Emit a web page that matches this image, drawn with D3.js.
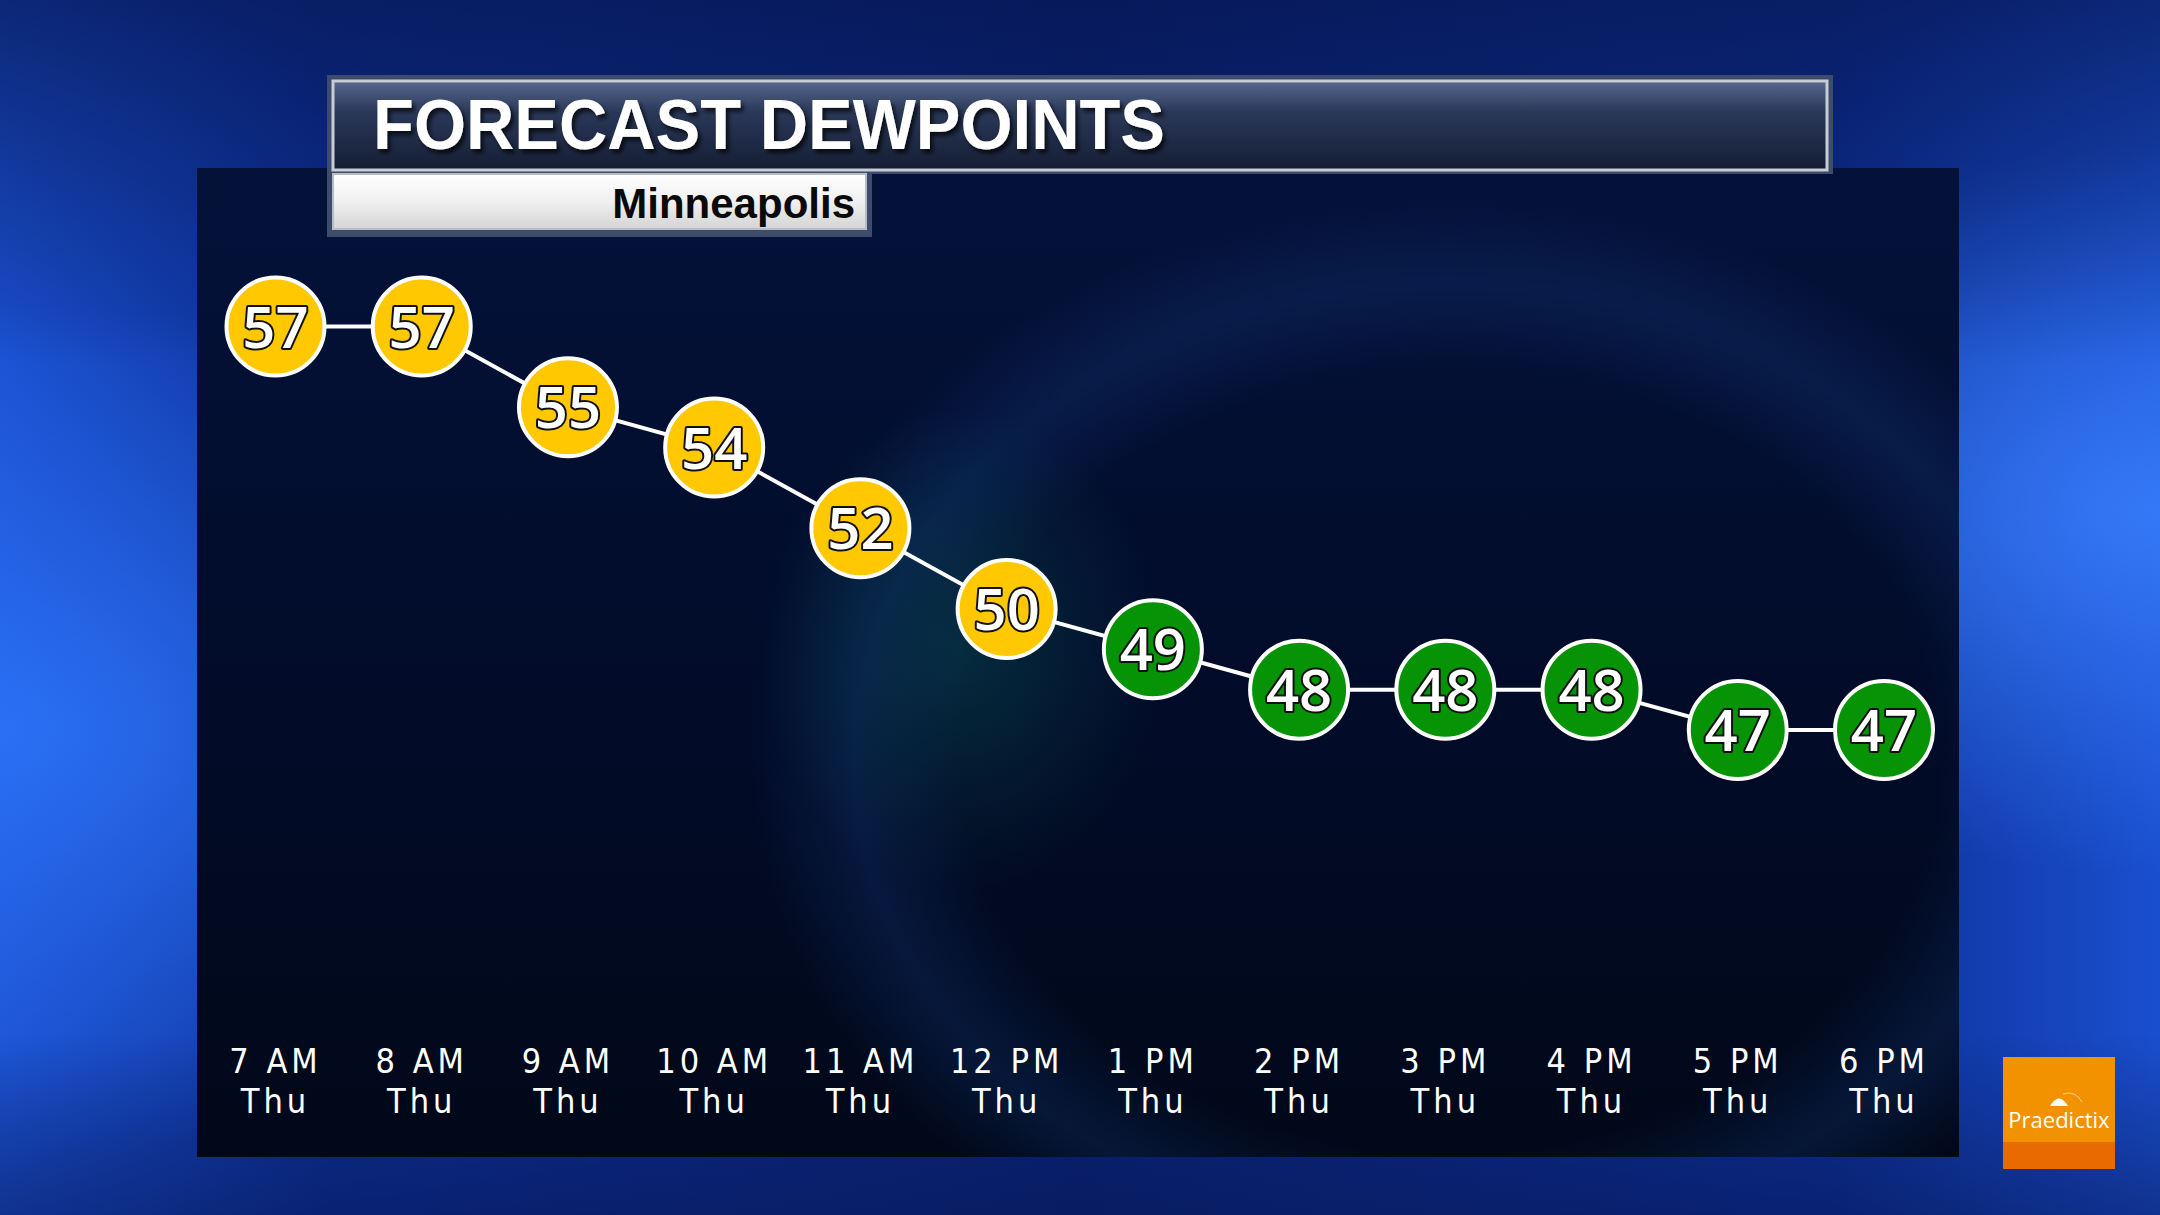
<!DOCTYPE html>
<html>
<head>
<meta charset="utf-8">
<script src="https://cdn.jsdelivr.net/npm/d3@7"></script>
<style>
  html, body { margin: 0; padding: 0; background: #0a2470; }
  svg { display: block; }
</style>
</head>
<body>
<script>
// Chart data
var hours = ["7 AM", "8 AM", "9 AM", "10 AM", "11 AM", "12 PM", "1 PM", "2 PM", "3 PM", "4 PM", "5 PM", "6 PM"];
var days = ["Thu", "Thu", "Thu", "Thu", "Thu", "Thu", "Thu", "Thu", "Thu", "Thu", "Thu", "Thu"];
var dewpoints = [57, 57, 55, 54, 52, 50, 49, 48, 48, 48, 47, 47];
var title = "FORECAST DEWPOINTS";
var city = "Minneapolis";

var W = 2160, H = 1215;

var svg = d3.select("body").append("svg")
    .attr("width", W)
    .attr("height", H);

var defs = svg.append("defs");

// background gradients
var bg = defs.append("linearGradient").attr("id", "bg")
    .attr("x1", "0").attr("y1", "0").attr("x2", "1").attr("y2", "0");
bg.append("stop").attr("offset", "0").attr("stop-color", "#1a4fcf");
bg.append("stop").attr("offset", "0.15").attr("stop-color", "#0c2f95");
bg.append("stop").attr("offset", "0.5").attr("stop-color", "#0a2274");
bg.append("stop").attr("offset", "0.85").attr("stop-color", "#0c2f95");
bg.append("stop").attr("offset", "1").attr("stop-color", "#1a4fcf");

var glowL = defs.append("radialGradient").attr("id", "glowL")
    .attr("cx", "0").attr("cy", "0.6").attr("r", "0.35");
glowL.append("stop").attr("offset", "0").attr("stop-color", "#2f78ff").attr("stop-opacity", 0.8);
glowL.append("stop").attr("offset", "1").attr("stop-color", "#2f78ff").attr("stop-opacity", 0);

var glowR = defs.append("radialGradient").attr("id", "glowR")
    .attr("cx", "1").attr("cy", "0.42").attr("r", "0.3");
glowR.append("stop").attr("offset", "0").attr("stop-color", "#3a80ff").attr("stop-opacity", 0.85);
glowR.append("stop").attr("offset", "1").attr("stop-color", "#3a80ff").attr("stop-opacity", 0);

var topDark = defs.append("linearGradient").attr("id", "topDark")
    .attr("x1", "0").attr("y1", "0").attr("x2", "0").attr("y2", "1");
topDark.append("stop").attr("offset", "0").attr("stop-color", "#061650").attr("stop-opacity", 0.7);
topDark.append("stop").attr("offset", "0.3").attr("stop-color", "#061650").attr("stop-opacity", 0);
topDark.append("stop").attr("offset", "0.85").attr("stop-color", "#061650").attr("stop-opacity", 0);
topDark.append("stop").attr("offset", "1").attr("stop-color", "#061650").attr("stop-opacity", 0.5);

// dark plot panel
var panel = defs.append("linearGradient").attr("id", "panel")
    .attr("x1", "0").attr("y1", "0").attr("x2", "0").attr("y2", "1");
panel.append("stop").attr("offset", "0").attr("stop-color", "#04123a");
panel.append("stop").attr("offset", "0.5").attr("stop-color", "#020c2a");
panel.append("stop").attr("offset", "1").attr("stop-color", "#010818");

var teal = defs.append("radialGradient").attr("id", "teal")
    .attr("cx", "0.5").attr("cy", "0.5").attr("r", "0.5");
teal.append("stop").attr("offset", "0").attr("stop-color", "#0a5a5a").attr("stop-opacity", 0.4);
teal.append("stop").attr("offset", "1").attr("stop-color", "#0a5a5a").attr("stop-opacity", 0);

var swirl = defs.append("radialGradient").attr("id", "swirl")
    .attr("cx", "0.5").attr("cy", "0.5").attr("r", "0.5");
swirl.append("stop").attr("offset", "0.7").attr("stop-color", "#123a80").attr("stop-opacity", 0);
swirl.append("stop").attr("offset", "0.85").attr("stop-color", "#123a80").attr("stop-opacity", 0.3);
swirl.append("stop").attr("offset", "1").attr("stop-color", "#123a80").attr("stop-opacity", 0);

// title bar
var titleG = defs.append("linearGradient").attr("id", "titleG")
    .attr("x1", "0").attr("y1", "0").attr("x2", "0").attr("y2", "1");
titleG.append("stop").attr("offset", "0").attr("stop-color", "#56688f");
titleG.append("stop").attr("offset", "0.35").attr("stop-color", "#2a3858");
titleG.append("stop").attr("offset", "1").attr("stop-color", "#141d33");

var subG = defs.append("linearGradient").attr("id", "subG")
    .attr("x1", "0").attr("y1", "0").attr("x2", "0").attr("y2", "1");
subG.append("stop").attr("offset", "0").attr("stop-color", "#ffffff");
subG.append("stop").attr("offset", "0.5").attr("stop-color", "#f0f0f0");
subG.append("stop").attr("offset", "1").attr("stop-color", "#d4d4d4");

var shadow = defs.append("filter").attr("id", "shadow")
    .attr("x", "-5%").attr("y", "-20%").attr("width", "110%").attr("height", "150%");
shadow.append("feDropShadow").attr("dx", 3).attr("dy", 4).attr("stdDeviation", 2)
    .attr("flood-color", "#000").attr("flood-opacity", 0.7);

// ---- background ----
svg.append("rect").attr("width", W).attr("height", H).attr("fill", "url(#bg)");
svg.append("rect").attr("width", W).attr("height", H).attr("fill", "url(#glowL)");
svg.append("rect").attr("width", W).attr("height", H).attr("fill", "url(#glowR)");
svg.append("rect").attr("width", W).attr("height", H).attr("fill", "url(#topDark)");

// ---- panel ----
var px0 = 197, py0 = 168, px1 = 1959, py1 = 1157;
svg.append("rect")
    .attr("x", px0).attr("y", py0)
    .attr("width", px1 - px0).attr("height", py1 - py0)
    .attr("fill", "url(#panel)");

var clip = defs.append("clipPath").attr("id", "panelClip");
clip.append("rect").attr("x", px0).attr("y", py0).attr("width", px1 - px0).attr("height", py1 - py0);

var deco = svg.append("g").attr("clip-path", "url(#panelClip)");
deco.append("ellipse").attr("cx", 1450).attr("cy", 760).attr("rx", 700).attr("ry", 560)
    .attr("fill", "url(#swirl)");
deco.append("ellipse").attr("cx", 960).attr("cy", 650).attr("rx", 200).attr("ry", 240)
    .attr("fill", "url(#teal)");

// ---- scales ----
var x = d3.scalePoint()
    .domain(d3.range(hours.length))
    .range([275.5, 1884]);

var y = d3.scaleLinear()
    .domain([47, 57])
    .range([730, 326.5]);

var color = function(v) { return v >= 50 ? "#ffc800" : "#069406"; };

// ---- line ----
var line = d3.line()
    .x(function(d, i) { return x(i); })
    .y(function(d) { return y(d); });

svg.append("path")
    .datum(dewpoints)
    .attr("d", line)
    .attr("fill", "none")
    .attr("stroke", "#ffffff")
    .attr("stroke-width", 4);

// ---- points ----
var pts = svg.selectAll("g.pt")
    .data(dewpoints)
    .enter().append("g")
    .attr("class", "pt")
    .attr("transform", function(d, i) { return "translate(" + x(i) + "," + y(d) + ")"; });

pts.append("circle")
    .attr("r", 49)
    .attr("fill", function(d) { return color(d); })
    .attr("stroke", "#ffffff")
    .attr("stroke-width", 4);

pts.append("text")
    .attr("text-anchor", "middle")
    .attr("y", 21)
    .attr("font-family", "'Open Sans', sans-serif")
    .attr("font-weight", 600)
    .attr("font-size", 58)
    .attr("fill", "#ffffff")
    .attr("stroke", "#111111")
    .attr("stroke-width", 4)
    .attr("stroke-linejoin", "round")
    .attr("paint-order", "stroke")
    .text(function(d) { return d; });

// ---- x labels (time over day) ----
var labels = svg.selectAll("g.lbl")
    .data(hours)
    .enter().append("g")
    .attr("class", "lbl")
    .attr("font-family", "'DejaVu Sans Condensed', 'DejaVu Sans', sans-serif")
    .attr("font-size", 34)
    .attr("fill", "#ffffff")
    .attr("text-anchor", "middle")
    .attr("letter-spacing", 4);

labels.append("text")
    .attr("x", function(d, i) { return x(i); })
    .attr("y", 1073)
    .text(function(d) { return d; });

labels.append("text")
    .attr("x", function(d, i) { return x(i); })
    .attr("y", 1113)
    .text(function(d, i) { return days[i]; });

// ---- title bar ----
svg.append("rect")
    .attr("x", 327).attr("y", 75).attr("width", 1506).attr("height", 99)
    .attr("fill", "#3e4c6c");
svg.append("rect")
    .attr("x", 333).attr("y", 81).attr("width", 1494).attr("height", 89)
    .attr("fill", "url(#titleG)")
    .attr("stroke", "#c8ccd6")
    .attr("stroke-width", 3);

svg.append("text")
    .attr("x", 373).attr("y", 149)
    .attr("font-family", "'Liberation Sans', Arial, sans-serif")
    .attr("font-weight", "bold")
    .attr("font-size", 70)
    .attr("textLength", 792)
    .attr("lengthAdjust", "spacingAndGlyphs")
    .attr("fill", "#ffffff")
    .attr("filter", "url(#shadow)")
    .text(title);

// ---- subtitle box ----
svg.append("rect")
    .attr("x", 327).attr("y", 172).attr("width", 545).attr("height", 65)
    .attr("fill", "#3e4c6c");
svg.append("rect")
    .attr("x", 333).attr("y", 174).attr("width", 533).attr("height", 55)
    .attr("fill", "url(#subG)")
    .attr("stroke", "#b8bcc4")
    .attr("stroke-width", 2);

svg.append("text")
    .attr("x", 855).attr("y", 218)
    .attr("text-anchor", "end")
    .attr("font-family", "'Liberation Sans', Arial, sans-serif")
    .attr("font-weight", "bold")
    .attr("font-size", 42)
    .attr("fill", "#0a0a0a")
    .text(city);

// ---- logo ----
var logo = svg.append("g");
logo.append("rect")
    .attr("x", 2003).attr("y", 1057).attr("width", 112).attr("height", 112)
    .attr("fill", "#f39200");
logo.append("rect")
    .attr("x", 2003).attr("y", 1142).attr("width", 112).attr("height", 27)
    .attr("fill", "#e96b00");
logo.append("path")
    .attr("d", "M2050,1106 Q2059,1091 2068,1106 Z")
    .attr("fill", "#ffffff");
logo.append("path")
    .attr("d", "M2063,1094 Q2075,1090 2082,1102")
    .attr("fill", "none")
    .attr("stroke", "#ffffff")
    .attr("stroke-opacity", 0.6)
    .attr("stroke-width", 1);
logo.append("text")
    .attr("x", 2059).attr("y", 1128)
    .attr("text-anchor", "middle")
    .attr("font-family", "'Open Sans', sans-serif")
    .attr("font-size", 22)
    .attr("fill", "#ffffff")
    .text("Praedictix");
</script>
</body>
</html>
